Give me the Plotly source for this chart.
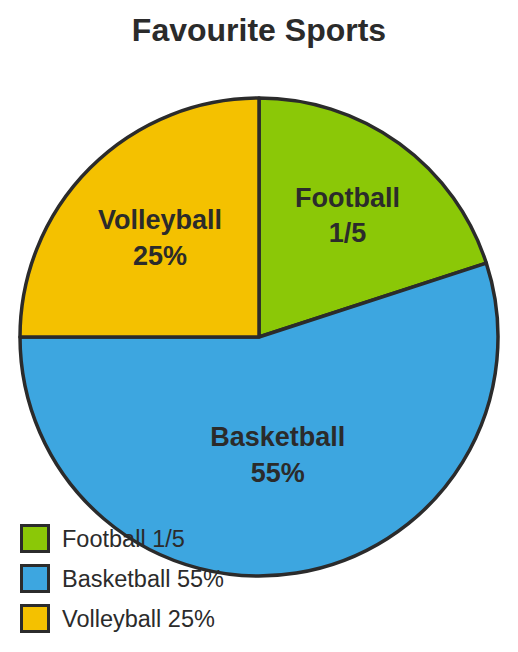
import plotly.graph_objects as go

categories = ["Football", "Basketball", "Volleyball"]
values = [20, 55, 25]
value_labels = ["1/5", "55%", "25%"]
colors = ["#8BC807", "#3DA6E0", "#F4C100"]
title_text = "Favourite Sports"

OFF = 8  # page body margin
W, H = 518, 652
L, R, T, B = 20 - OFF, 20 + OFF, 98 - OFF, 76 + OFF
pw, ph = W - L - R, H - T - B
INK = "#2b2b2b"
FONT = "Liberation Sans"


def px_x(x):
    return (x - OFF - L) / pw


def px_y(y):
    return 1 - (y - OFF - T) / ph


fig = go.Figure(
    go.Pie(
        labels=categories,
        values=values,
        text=value_labels,
        texttemplate="<b>%{label}<br>%{text}</b>",
        sort=False,
        direction="clockwise",
        rotation=0,
        marker=dict(colors=colors, line=dict(color=INK, width=3.5)),
        textposition="inside",
        insidetextorientation="horizontal",
        textfont=dict(family=FONT, size=27, color=INK),
        showlegend=False,
        hoverinfo="label+text",
    )
)

shapes = []
annotations = []
for i, (cat, lab, col) in enumerate(zip(categories, value_labels, colors)):
    top = 524 + 40 * i
    shapes.append(
        dict(
            type="rect",
            xref="paper",
            yref="paper",
            x0=px_x(21.5),
            x1=px_x(48.5),
            y0=px_y(top + 1.5),
            y1=px_y(top + 27.5),
            fillcolor=col,
            line=dict(color=INK, width=3),
            layer="above",
        )
    )
    annotations.append(
        dict(
            text=f"{cat} {lab}",
            xref="paper",
            yref="paper",
            x=px_x(60),
            y=px_y(top + 15),
            xanchor="left",
            yanchor="middle",
            showarrow=False,
            font=dict(family=FONT, size=23.5, color=INK),
        )
    )

fig.update_layout(
    width=W,
    height=H,
    margin=dict(l=L, r=R, t=T, b=B),
    paper_bgcolor="white",
    plot_bgcolor="white",
    title=dict(
        text="<b>" + title_text + "</b>",
        x=(259 - OFF) / W,
        xanchor="center",
        y=1 - (30 - OFF) / H,
        yanchor="middle",
        yref="container",
        font=dict(family=FONT, size=32, color=INK),
    ),
    shapes=shapes,
    annotations=annotations,
)

fig.write_html("out.html")
